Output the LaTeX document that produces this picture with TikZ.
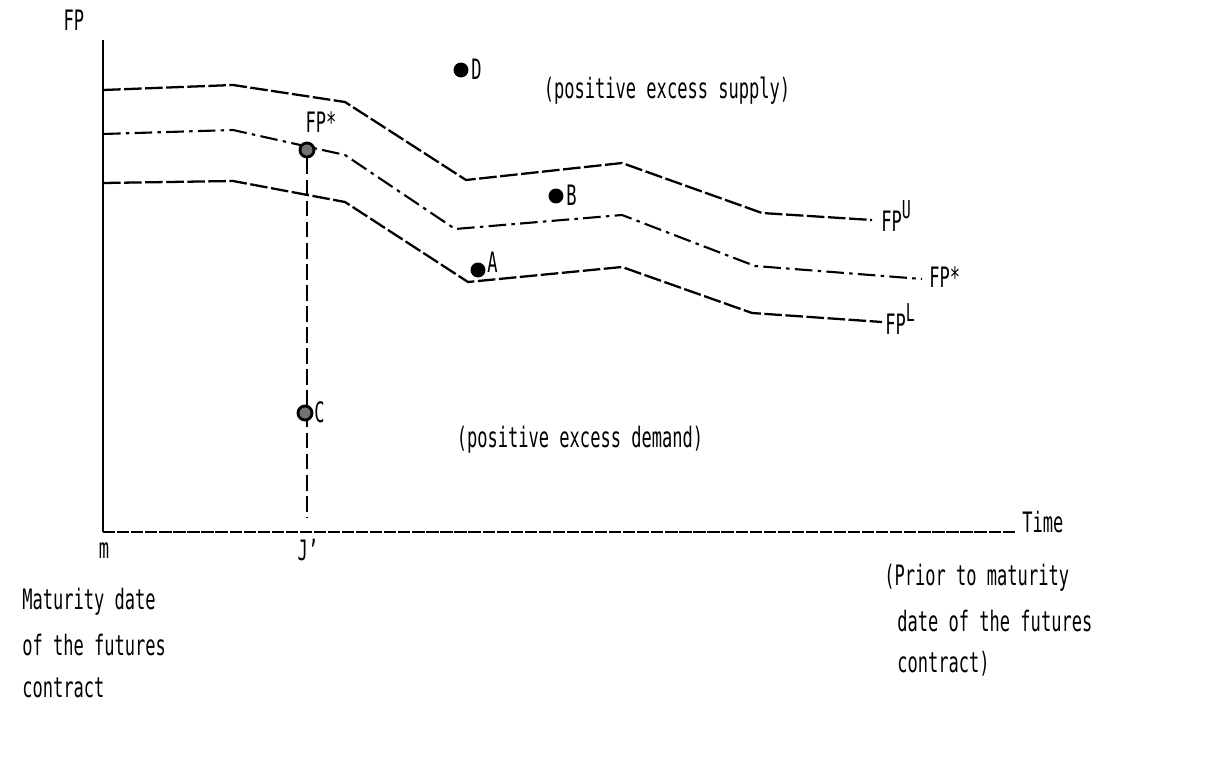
\documentclass[tikz,border=0pt]{standalone}
\usepackage{fontspec}
\usepackage{graphicx}
\setmonofont{DejaVu Sans Mono}
\newcommand{\tx}[1]{\scalebox{1}[1.65]{\ttfamily #1}}
\newcommand{\sups}[1]{\raisebox{0.9ex}{\fontsize{8.5}{10}\selectfont #1}}
\begin{document}
\begin{tikzpicture}[x=0.02cm,y=-0.02cm,
  lbl/.style={font=\fontsize{9.7}{12}\selectfont, inner sep=0pt},
  bound/.style={line width=1.3pt, dash pattern=on 10pt off 2pt},
  mid/.style={line width=1.2pt, dash pattern=on 10pt off 3pt on 2pt off 3pt},
  vert/.style={line width=1.3pt, dash pattern=on 9pt off 3pt},
  taxis/.style={line width=0.9pt, dash pattern=on 7pt off 1pt},
  pt/.style={circle, fill=black, minimum size=8.5pt, inner sep=0pt},
  ptopen/.style={circle, draw=black, line width=1.6pt, fill=black!55, minimum size=8pt, inner sep=0pt}]
\useasboundingbox (0,0) rectangle (1219,767);
% axes
\coordinate (top) at (103,40);
\coordinate (org) at (103,532);
\coordinate (xend) at (1015,532);
\draw[line width=1.6pt] (top) -- (org);
\draw[taxis] (org) -- (xend);
\node[lbl, anchor=west] (time) at (1022,522) {\tx{Time}};
\node[lbl] (fp) at (74,20) {\tx{FP}};
% curves
\draw[bound] (103,90) -- (233,85) -- (345,102) -- (466,180) -- (622,163) -- (762,213) -- (872,220);
\draw[mid] (103,134) -- (233,130) -- (345,155) -- (455,229) -- (622,215) -- (755,266) -- (922,279);
\draw[bound] (103,183) -- (233,181) -- (345,202) -- (468,282) -- (622,267) -- (752,313) -- (882,322);
\node[lbl, anchor=west] (fpu) at (881,216) {\tx{FP\sups{U}}};
\node[lbl, anchor=west] (fps) at (929,277) {\tx{FP*}};
\node[lbl, anchor=west] (fpl) at (885,319) {\tx{FP\sups{L}}};
% vertical line at J'
\coordinate (jax) at (307,518);
\node[ptopen] (pstar) at (307,150) {};
\draw[vert] (pstar) -- (jax);
\node[lbl] (fpstar) at (321,122) {\tx{FP*}};
% points
\node[pt] (d) at (461,70) {};
\node[lbl, anchor=west] (dl) at (471,69) {\tx{D}};
\node[pt] (b) at (556,196) {};
\node[lbl, anchor=west] (bl) at (566,195) {\tx{B}};
\node[pt] (a) at (478,270) {};
\node[lbl, anchor=west] (al) at (487,262) {\tx{A}};
\node[ptopen] (c) at (305,413) {};
\node[lbl, anchor=west] (cl) at (314,412) {\tx{C}};
% region texts
\node[lbl] (sup) at (667,91) {\tx{(positive excess supply)}};
\node[lbl] (dem) at (580,440) {\tx{(positive excess demand)}};
% axis labels
\node[lbl] (m) at (104,551) {\tx{m}};
\node[lbl] (j) at (308,550) {\tx{J\textquoteright}};
\node[lbl, anchor=west] (mat1) at (22,602) {\tx{Maturity date}};
\node[lbl, anchor=west] (mat2) at (22,645) {\tx{of the futures}};
\node[lbl, anchor=west] (mat3) at (22,688) {\tx{contract}};
\node[lbl, anchor=west] (pr1) at (884,578) {\tx{(Prior to maturity}};
\node[lbl, anchor=west] (pr2) at (897,621) {\tx{date of the futures}};
\node[lbl, anchor=west] (pr3) at (897,664) {\tx{contract)}};
\end{tikzpicture}
\end{document}
